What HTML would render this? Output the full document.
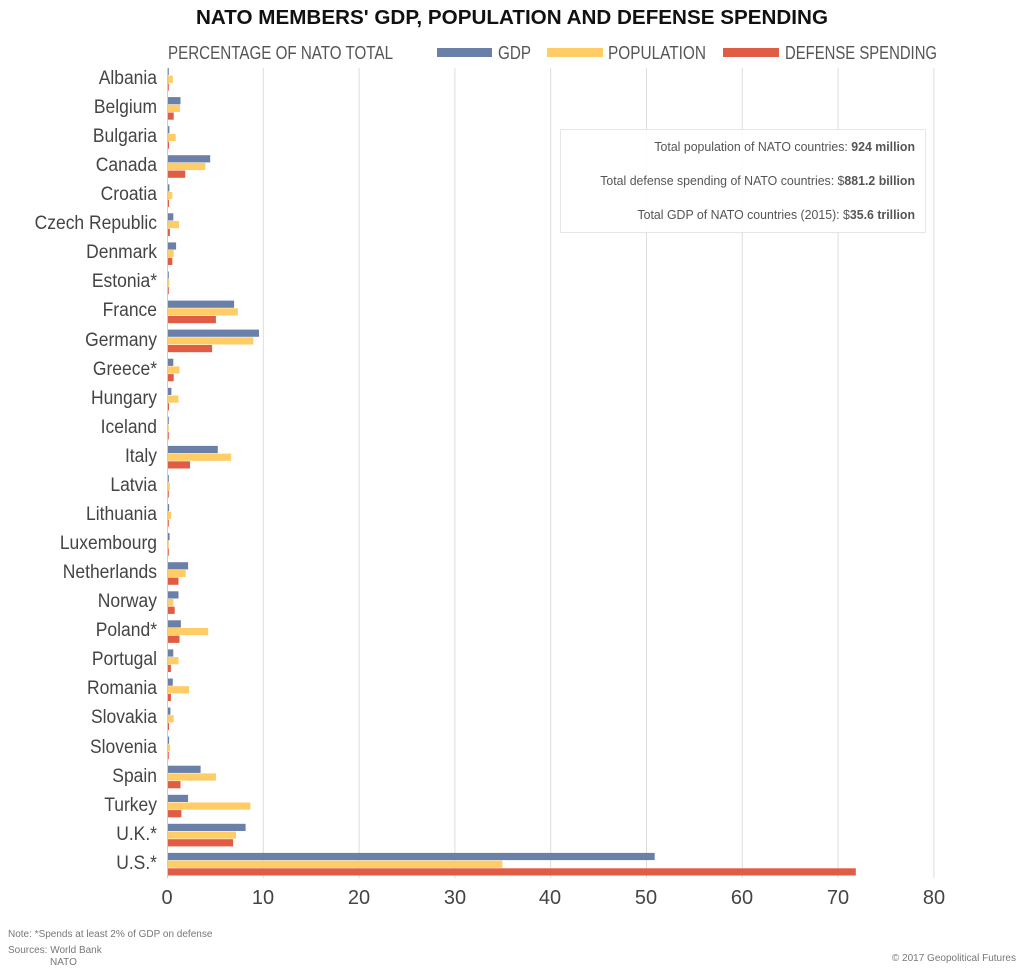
<!DOCTYPE html>
<html><head><meta charset="utf-8"><style>
body{margin:0;background:#fff}
svg{display:block}
text{font-family:"Liberation Sans",sans-serif}
</style></head><body>
<svg id="s" width="1024" height="969" xmlns="http://www.w3.org/2000/svg">
<rect width="1024" height="969" fill="#fff"/>
<text x="512" y="24" text-anchor="middle" font-size="20" font-weight="bold" fill="#111" textLength="632" lengthAdjust="spacingAndGlyphs">NATO MEMBERS' GDP, POPULATION AND DEFENSE SPENDING</text>
<text x="168" y="59" font-size="18" fill="#555" textLength="225" lengthAdjust="spacingAndGlyphs">PERCENTAGE OF NATO TOTAL</text>
<rect x="437" y="48" width="55" height="9" fill="#6a80a8"/>
<text x="498" y="59" font-size="18" fill="#555" textLength="33" lengthAdjust="spacingAndGlyphs">GDP</text>
<rect x="547" y="48" width="56" height="9" fill="#ffcc66"/>
<text x="608" y="59" font-size="18" fill="#555" textLength="98" lengthAdjust="spacingAndGlyphs">POPULATION</text>
<rect x="723" y="48" width="56" height="9" fill="#e05c45"/>
<text x="785" y="59" font-size="18" fill="#555" textLength="152" lengthAdjust="spacingAndGlyphs">DEFENSE SPENDING</text>
<g id="grid" stroke="#ddd" stroke-width="1"></g>
<g id="bars"></g>
<line x1="167.5" y1="68" x2="167.5" y2="878" stroke="#ccc"/>
<rect x="560.5" y="129.5" width="365" height="103" fill="#fff" fill-opacity="0.9" stroke="#e6e6e6"/>
<g font-size="13" fill="#555" text-anchor="end" transform="translate(915,0) scale(0.95,1)">
<text x="0" y="151">Total population of NATO countries: <tspan font-weight="bold">924 million</tspan></text>
<text x="0" y="185">Total defense spending of NATO countries: $<tspan font-weight="bold">881.2 billion</tspan></text>
<text x="0" y="219">Total GDP of NATO countries (2015): $<tspan font-weight="bold">35.6 trillion</tspan></text>
</g>
<g font-size="19" fill="#444" text-anchor="end" transform="translate(157,0) scale(0.92,1)">
<text x="0" y="84">Albania</text>
<text x="0" y="113">Belgium</text>
<text x="0" y="142">Bulgaria</text>
<text x="0" y="171">Canada</text>
<text x="0" y="200">Croatia</text>
<text x="0" y="229">Czech Republic</text>
<text x="0" y="258">Denmark</text>
<text x="0" y="287">Estonia*</text>
<text x="0" y="316">France</text>
<text x="0" y="346">Germany</text>
<text x="0" y="375">Greece*</text>
<text x="0" y="404">Hungary</text>
<text x="0" y="433">Iceland</text>
<text x="0" y="462">Italy</text>
<text x="0" y="491">Latvia</text>
<text x="0" y="520">Lithuania</text>
<text x="0" y="549">Luxembourg</text>
<text x="0" y="578">Netherlands</text>
<text x="0" y="607">Norway</text>
<text x="0" y="636">Poland*</text>
<text x="0" y="665">Portugal</text>
<text x="0" y="694">Romania</text>
<text x="0" y="723">Slovakia</text>
<text x="0" y="753">Slovenia</text>
<text x="0" y="782">Spain</text>
<text x="0" y="811">Turkey</text>
<text x="0" y="840">U.K.*</text>
<text x="0" y="869">U.S.*</text>
</g>
<g font-size="20" fill="#444" text-anchor="middle">
<text x="167" y="904">0</text><text x="263" y="904">10</text><text x="359" y="904">20</text><text x="455" y="904">30</text><text x="550" y="904">40</text><text x="646" y="904">50</text><text x="742" y="904">60</text><text x="838" y="904">70</text><text x="934" y="904">80</text>
</g>
<g font-size="10" fill="#777">
<text x="8" y="937">Note: *Spends at least 2% of GDP on defense</text>
<text x="8" y="953">Sources: World Bank</text>
<text x="50" y="965">NATO</text>
<text x="1016" y="961" text-anchor="end">© 2017 Geopolitical Futures</text>
</g>
</svg>
<script>
var d=[[.04,.5,.02],[1.3,1.25,.6],[.15,.8,.1],[4.4,3.9,1.8],[.15,.45,.1],[.55,1.15,.2],[.85,.6,.45],[.07,.15,.05],[6.9,7.3,5.0],[9.5,8.9,4.6],[.55,1.2,.6],[.35,1.1,.1],[.05,.05,.02],[5.2,6.6,2.3],[.08,.2,.03],[.12,.32,.05],[.17,.06,.02],[2.1,1.85,1.1],[1.1,.55,.7],[1.35,4.2,1.2],[.55,1.1,.3],[.5,2.2,.3],[.25,.6,.1],[.12,.22,.05],[3.4,5.0,1.3],[2.1,8.6,1.4],[8.1,7.1,6.8],[50.8,34.9,71.8]];
var c=["#6a80a8","#ffcc66","#e05c45"],ns="http://www.w3.org/2000/svg";
var g=document.getElementById("grid"),b=document.getElementById("bars");
for(var k=1;k<=8;k++){var l=document.createElementNS(ns,"line");var x=167.5+k*95.8;l.setAttribute("x1",x);l.setAttribute("x2",x);l.setAttribute("y1",68);l.setAttribute("y2",878);g.appendChild(l);}
d.forEach(function(r,i){r.forEach(function(v,j){var e=document.createElementNS(ns,"rect");e.setAttribute("x",168);e.setAttribute("y",(68+29.07*i+j*7.7).toFixed(1));e.setAttribute("width",Math.max(v*9.58,0.8).toFixed(1));e.setAttribute("height",7.2);e.setAttribute("fill",c[j]);b.appendChild(e);});});
</script>
</body></html>
